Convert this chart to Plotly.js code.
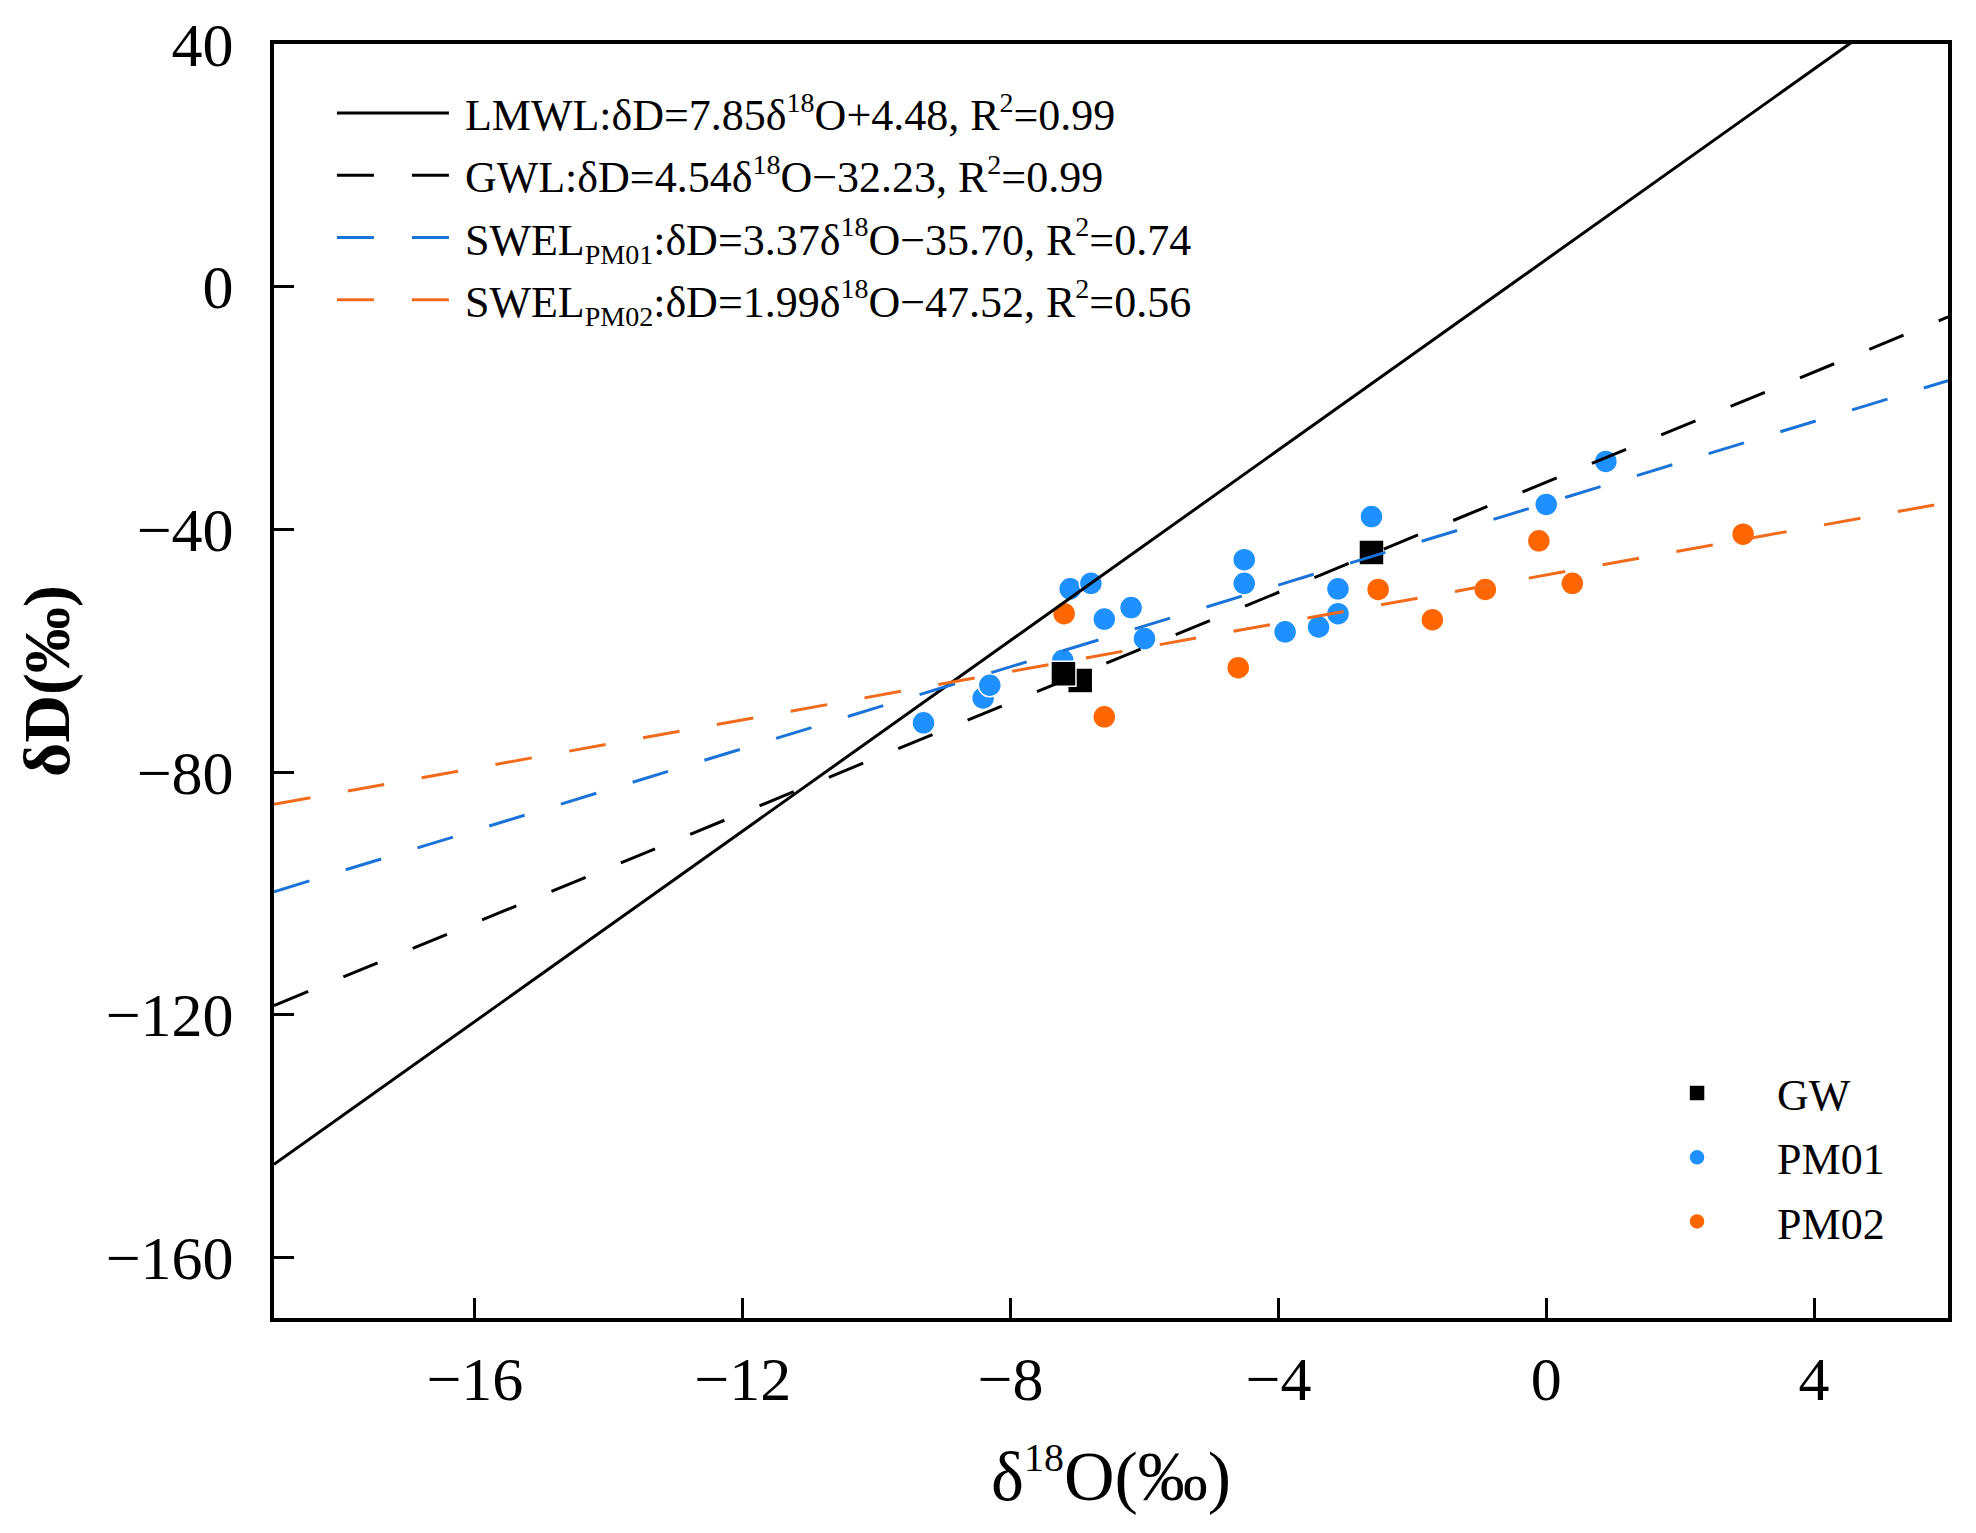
<!DOCTYPE html>
<html>
<head>
<meta charset="utf-8">
<script src="https://cdn.plot.ly/plotly-3.0.1.min.js"></script>
<style>
  body { margin: 0; background: #ffffff; }
</style>
</head>
<body>
<div id="chart_isotope"></div>
<script>
// Stable isotope plot: dD vs d18O

// Sample points

var gwX = [-6.96, -7.21, -2.61];
var gwY = [-64.9, -63.8, -43.8];

var pm01X = [-9.30, -8.41, -8.31, -7.22, -7.11, -6.80, -6.60, -6.20, -6.00,
  -4.51, -4.51, -3.90, -3.40, -3.11, -3.11, -2.61, 0.00, 0.89];
var pm01Y = [-71.9, -67.8, -65.7, -61.6, -49.8, -48.9, -54.8, -52.9, -58.0,
  -45.0, -48.9, -56.9, -56.1, -49.8, -53.9, -37.9, -35.9, -28.8];

var pm02X = [-7.20, -6.60, -4.60, -2.51, -1.70, -0.91, -0.11, 0.39, 2.94];
var pm02Y = [-53.9, -70.9, -62.8, -49.9, -54.9, -49.9, -41.9, -48.9, -40.8];

// Fitted lines, as printed in the legend

var sup = function (t) { return '<sup><span style="font-size:28px">' + t + '</span></sup>'; };
var sub = function (t) { return '<sub><span style="font-size:28px">' + t + '</span></sub>'; };

var lineNames = [
  'LMWL:δD=7.85δ' + sup('18') + 'O+4.48, R' + sup('2') + '=0.99',
  'GWL:δD=4.54δ' + sup('18') + 'O−32.23, R' + sup('2') + '=0.99',
  'SWEL' + sub('PM01') + ':δD=3.37δ' + sup('18') + 'O−35.70, R' + sup('2') + '=0.74',
  'SWEL' + sub('PM02') + ':δD=1.99δ' + sup('18') + 'O−47.52, R' + sup('2') + '=0.56'
];
var lineSlopes = [7.85, 4.54, 3.37, 1.99];
var lineIntercepts = [4.48, -32.23, -35.70, -47.52];
var lineXEnds = [-19, 6];

var lineColors = ['#000000', '#000000', '#1a73d9', '#f26b1d'];
var lineDash = ['solid', '37px,38px', '37px,38px', '37px,38px'];

var serif = 'Liberation Serif, Times New Roman, serif';

// Scatter traces first so the lines sit on top

var pm01 = {
  x: pm01X,
  y: pm01Y,
  name: 'PM01',
  type: 'scatter',
  mode: 'markers',
  legend: 'legend2',
  legendgroup: 'pm01',
  legendrank: 2,
  hoverinfo: 'none',
  marker: {
    symbol: 'circle',
    size: 23,
    color: '#1e90ff',
    line: { color: '#ffffff', width: 1.5 }
  }
};

var pm02 = {
  x: pm02X,
  y: pm02Y,
  name: 'PM02',
  type: 'scatter',
  mode: 'markers',
  legend: 'legend2',
  legendgroup: 'pm02',
  legendrank: 3,
  hoverinfo: 'none',
  marker: {
    symbol: 'circle',
    size: 23,
    color: '#ff6600',
    line: { color: '#ffffff', width: 1.5 }
  }
};

var gw = {
  x: gwX,
  y: gwY,
  name: 'GW',
  type: 'scatter',
  mode: 'markers',
  legend: 'legend2',
  legendgroup: 'gw',
  legendrank: 1,
  hoverinfo: 'none',
  marker: {
    symbol: 'square',
    size: 25,
    color: '#000000',
    line: { color: '#ffffff', width: 1.5 }
  }
};

var data = [pm01, pm02, gw];

for (var i = 0; i < lineNames.length; i++) {
  data.push({
    x: lineXEnds,
    y: lineXEnds.map(function (v) { return lineSlopes[i] * v + lineIntercepts[i]; }),
    name: '\u00a0' + lineNames[i],
    type: 'scatter',
    mode: 'lines',
    legend: 'legend',
    legendgroup: 'fit' + i,
    legendrank: i + 1,
    hoverinfo: 'none',
    line: { color: lineColors[i], width: 3, dash: lineDash[i] }
  });
}

var layout = {
  width: 1976,
  height: 1533,
  paper_bgcolor: '#ffffff',
  plot_bgcolor: '#ffffff',
  font: { family: serif, size: 44, color: '#000000' },
  margin: { l: 274, r: 28, t: 44, b: 215 },
  showlegend: true,
  legend: {
    x: 0.0346,
    xanchor: 'left',
    y: 0.9733,
    yanchor: 'top',
    bgcolor: 'rgba(0,0,0,0)',
    borderwidth: 0,
    itemwidth: 112,
    tracegroupgap: 2,
    font: { family: serif, size: 44, color: '#000000' }
  },
  legend2: {
    x: 0.8023,
    xanchor: 'left',
    y: 0.2041,
    yanchor: 'top',
    bgcolor: 'rgba(0,0,0,0)',
    borderwidth: 0,
    itemwidth: 150,
    tracegroupgap: 4,
    font: { family: serif, size: 44, color: '#000000' }
  },
  xaxis: {
    range: [-19, 6],
    tick0: 0,
    dtick: 4,
    ticks: 'inside',
    ticklen: 20,
    tickwidth: 3,
    tickcolor: '#000000',
    ticklabelstandoff: 4,
    showline: true,
    linewidth: 4,
    linecolor: '#000000',
    mirror: true,
    showgrid: false,
    zeroline: false,
    automargin: true,
    tickfont: { family: serif, size: 62, color: '#000000' },
    title: {
      text: 'δ<sup><span style="font-size:40px">18</span></sup>O(‰)',
      standoff: 40,
      font: { family: serif, size: 70, color: '#000000' }
    }
  },
  yaxis: {
    range: [-170, 40],
    tick0: 0,
    dtick: 40,
    ticks: 'inside',
    ticklen: 20,
    tickwidth: 3,
    tickcolor: '#000000',
    ticklabelstandoff: 24,
    showline: true,
    linewidth: 4,
    linecolor: '#000000',
    mirror: true,
    showgrid: false,
    zeroline: false,
    automargin: true,
    tickfont: { family: serif, size: 62, color: '#000000' },
    title: {
      text: '<b>δD(‰)</b>',
      standoff: 16,
      font: { family: serif, size: 66, color: '#000000' }
    }
  }
};

Plotly.newPlot('chart_isotope', data, layout, { displayModeBar: false });
</script>
</body>
</html>
